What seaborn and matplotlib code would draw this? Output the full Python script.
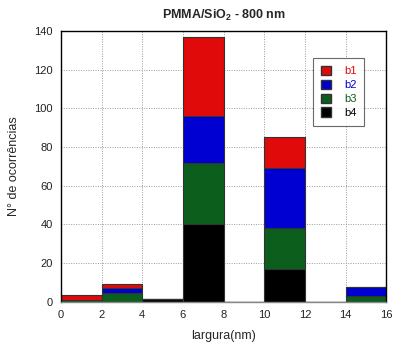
import matplotlib
matplotlib.use("Agg")
import matplotlib.pyplot as plt
import seaborn as sns
import pandas as pd
from matplotlib.patches import Patch

# Data (bins of width 2 nm, bin centres)
centers = [1, 3, 5, 7, 11, 15]
b1 = [2.5, 2, 0, 41, 16, 0]
b2 = [0, 3, 0, 24, 31, 4.3]
b3 = [0.8, 4.4, 0, 32, 21, 3.2]
b4 = [0, 0, 1.5, 40, 17, 0]
series = ["b1", "b2", "b3", "b4"]
colors = {"b1": "#e00a0a", "b2": "#0000d2", "b3": "#0b5e1c", "b4": "#000000"}
xticks = [0, 2, 4, 6, 8, 10, 12, 14, 16]
yticks = [0, 20, 40, 60, 80, 100, 120, 140]

rows = []
for name, vals in zip(series, [b1, b2, b3, b4]):
    for c, v in zip(centers, vals):
        rows.append({"x": c, "w": v, "serie": name})
df = pd.DataFrame(rows)

sns.set_style("white")
plt.rcParams["font.family"] = ["Liberation Sans", "DejaVu Sans"]

fig = plt.figure(figsize=(3.93, 3.45), dpi=100)
ax = fig.add_axes([0.155, 0.125, 0.828, 0.785])

sns.histplot(data=df, x="x", weights="w", hue="serie", hue_order=series,
             bins=xticks, multiple="stack", palette=colors, alpha=1,
             edgecolor="#333333", linewidth=0.8, legend=False, ax=ax)

ax.set_xlim(0, 16)
ax.set_ylim(0, 140)
ax.set_xticks(xticks)
ax.set_yticks(yticks)
ax.set_axisbelow(True)
ax.grid(True, linestyle=(0, (1, 1.5)), color="#9a9a9a", linewidth=0.7)
ax.tick_params(axis="both", labelsize=8, length=0, pad=6, colors="#222222")
for s in ax.spines.values():
    s.set_visible(True)
    s.set_color("black")
    s.set_linewidth(1)
ax.spines["bottom"].set_color("#888888")

ax.set_xlabel("largura(nm)", fontsize=9, labelpad=7)
ax.set_ylabel("N° de ocorrências", fontsize=9, labelpad=10)
ax.set_title(r"PMMA/SiO$_\mathregular{2}$ - 800 nm", fontsize=9, fontweight="bold", pad=9)

handles = [Patch(facecolor=colors[s], edgecolor="#333333", label=s) for s in series]
leg = ax.legend(handles=handles, loc="upper right", bbox_to_anchor=(0.95, 0.92),
                fontsize=8, frameon=True, fancybox=False, edgecolor="#444444",
                handlelength=0.9, handleheight=0.9, labelspacing=0.3,
                borderpad=0.7, handletextpad=1.2)
leg.get_frame().set_linewidth(0.8)
for t, s in zip(leg.get_texts(), series):
    t.set_color(colors[s])

fig.savefig("out.png", dpi=100)
